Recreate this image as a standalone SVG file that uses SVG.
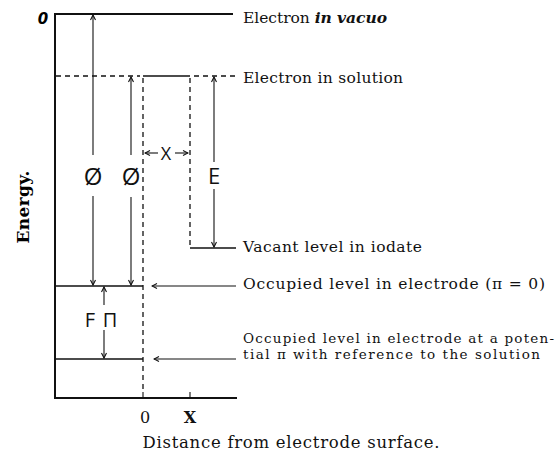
<svg xmlns="http://www.w3.org/2000/svg" width="560" height="458" viewBox="0 0 560 458">
<style>
.lbl{font-family:"DejaVu Serif","Liberation Serif",serif;fill:#111}
.ax{stroke:#111;stroke-width:2;fill:none}
.lv{stroke:#111;stroke-width:1.6;fill:none}
.dash{stroke:#111;stroke-width:1.3;stroke-dasharray:5,4;fill:none}
.arr{stroke:#111;stroke-width:1.1;fill:none}
.sym{font-family:"Open Sans","Liberation Sans",sans-serif;font-weight:400;fill:#111;text-anchor:middle}
</style>
<defs>
<marker id="ah" viewBox="-6 -3 7 6" refX="0" refY="0" markerWidth="7" markerHeight="6" orient="auto-start-reverse" markerUnits="userSpaceOnUse">
<path d="M-5,-2.5 L0,0 L-5,2.5" fill="none" stroke="#111" stroke-width="1.1"/>
</marker>
</defs>
<rect width="560" height="458" fill="#fff"/>

<g id="axes">
<line class="ax" x1="55" y1="13" x2="55" y2="398"/>
<line class="ax" x1="54" y1="398" x2="237" y2="398"/>
<line class="arr" x1="143" y1="392" x2="143" y2="398"/>
<line class="arr" x1="190" y1="392" x2="190" y2="398"/>
<text x="43" y="24" font-family="DejaVu Sans,sans-serif" font-style="italic" font-weight="bold" font-size="15" text-anchor="middle">0</text>
<text x="145" y="423" class="lbl" font-size="16" text-anchor="middle">0</text>
<text x="190" y="423" class="lbl" font-size="16" font-weight="bold" text-anchor="middle">X</text>
<text x="291" y="448" class="lbl" font-size="16.5" text-anchor="middle" textLength="297">Distance from electrode surface.</text>
<text transform="translate(29,207) rotate(-90)" font-family="DejaVu Serif,serif" font-weight="bold" font-size="17" text-anchor="middle" textLength="73">Energy.</text>
</g>

<g id="vacuo">
<line class="ax" x1="55" y1="14" x2="233" y2="14"/>
<text class="lbl" font-size="15.5" x="243" y="23" textLength="144">Electron <tspan font-style="italic" font-weight="bold">in vacuo</tspan></text>
</g>

<g id="solution">
<line class="dash" x1="56" y1="76" x2="140" y2="76"/>
<line class="lv" x1="143" y1="76" x2="190" y2="76"/>
<line class="dash" x1="194" y1="76" x2="238" y2="76"/>
<text class="lbl" font-size="15.5" x="243" y="83" textLength="160">Electron in solution</text>
</g>

<g id="surface">
<line class="dash" x1="143" y1="78" x2="143" y2="392"/>
<line class="dash" x1="190" y1="78" x2="190" y2="248"/>
</g>

<g id="iodate">
<line class="lv" x1="190" y1="248" x2="236" y2="248"/>
<text class="lbl" font-size="15.5" x="243" y="252" textLength="179">Vacant level in iodate</text>
</g>

<g id="occupied0">
<line class="lv" x1="55" y1="286" x2="143" y2="286"/>
<text class="lbl" font-size="15.5" x="243" y="289" textLength="302">Occupied level in electrode (π = 0)</text>
</g>

<g id="occupiedpi">
<line class="lv" x1="55" y1="359" x2="143" y2="359"/>
<text class="lbl" font-size="13.5" x="243" y="343" textLength="311">Occupied level in electrode at a poten-</text>
<text class="lbl" font-size="13.5" x="243" y="359" textLength="297">tial π with reference to the solution</text>
</g>

<g id="labels">
<text class="sym" x="93" y="185" font-size="24">Ø</text>
<text class="sym" x="131" y="185" font-size="24">Ø</text>
<text class="sym" x="214" y="184" font-size="22">E</text>
<text class="sym" x="166" y="160" font-size="18">X</text>
<text class="sym" x="90" y="327" font-size="20">F</text>
<text class="sym" x="110" y="327" font-size="20">Π</text>
</g>

<g id="connectors">
<line class="arr" x1="93" y1="155" x2="93" y2="15" marker-end="url(#ah)"/>
<line class="arr" x1="93" y1="196" x2="93" y2="285" marker-end="url(#ah)"/>
<line class="arr" x1="131" y1="155" x2="131" y2="77" marker-end="url(#ah)"/>
<line class="arr" x1="131" y1="197" x2="131" y2="285" marker-end="url(#ah)"/>
<line class="arr" x1="214" y1="162" x2="214" y2="77" marker-end="url(#ah)"/>
<line class="arr" x1="214" y1="189" x2="214" y2="247" marker-end="url(#ah)"/>
<line class="arr" x1="104" y1="305" x2="104" y2="287" marker-end="url(#ah)"/>
<line class="arr" x1="104" y1="330" x2="104" y2="358" marker-end="url(#ah)"/>
<line class="arr" x1="158" y1="153" x2="145" y2="153" marker-end="url(#ah)"/>
<line class="arr" x1="175" y1="153" x2="188" y2="153" marker-end="url(#ah)"/>
<line class="arr" x1="236" y1="286" x2="152" y2="286" marker-end="url(#ah)"/>
<line class="arr" x1="236" y1="359" x2="154" y2="359" marker-end="url(#ah)"/>
</g>
</svg>
